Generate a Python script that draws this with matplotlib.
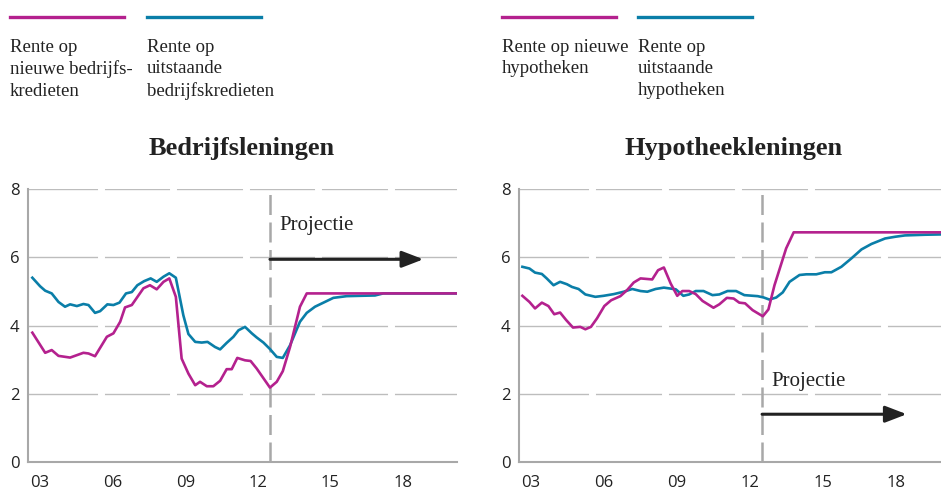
import matplotlib
matplotlib.use("Agg")
import matplotlib.pyplot as plt
from matplotlib.lines import Line2D

# Data, x in fractional years
bed_nieuw_x = [2003.18, 2003.71, 2003.98, 2004.26, 2004.74, 2005.29, 2005.50, 2005.77, 2006.26, 2006.53,
               2006.81, 2007.01, 2007.29, 2007.77, 2008.04, 2008.32, 2008.60, 2008.84, 2009.11, 2009.35,
               2009.63, 2009.91, 2010.11, 2010.39, 2010.66, 2010.94, 2011.21, 2011.42, 2011.65, 2011.97,
               2012.20, 2012.45, 2013.00, 2013.28, 2013.53, 2013.83, 2014.24, 2014.52, 2020.75]
bed_nieuw_y = [3.79, 3.20, 3.28, 3.11, 3.06, 3.20, 3.18, 3.10, 3.67, 3.77,
               4.11, 4.53, 4.60, 5.09, 5.18, 5.06, 5.28, 5.38, 4.84, 3.03,
               2.59, 2.25, 2.35, 2.22, 2.22, 2.38, 2.72, 2.72, 3.05, 2.98,
               2.96, 2.74, 2.18, 2.35, 2.66, 3.37, 4.55, 4.94, 4.94]

bed_uitst_x = [2003.18, 2003.50, 2003.71, 2003.98, 2004.26, 2004.53, 2004.74, 2005.02, 2005.29, 2005.50,
               2005.77, 2005.98, 2006.28, 2006.53, 2006.78, 2007.05, 2007.29, 2007.52, 2007.80, 2008.07,
               2008.32, 2008.60, 2008.84, 2009.11, 2009.42, 2009.63, 2009.91, 2010.18, 2010.42, 2010.73,
               2010.94, 2011.21, 2011.49, 2011.70, 2011.97, 2012.25, 2012.45, 2012.73, 2013.00, 2013.28,
               2013.53, 2013.83, 2014.24, 2014.52, 2014.86, 2015.27, 2015.62, 2016.17, 2016.72, 2017.34,
               2017.68, 2020.75]
bed_uitst_y = [5.40, 5.15, 5.02, 4.94, 4.69, 4.55, 4.62, 4.57, 4.63, 4.60,
               4.37, 4.42, 4.62, 4.60, 4.67, 4.94, 4.98, 5.18, 5.30, 5.38,
               5.28, 5.43, 5.53, 5.40, 4.30, 3.75, 3.52, 3.50, 3.52, 3.37,
               3.30, 3.49, 3.67, 3.86, 3.96, 3.77, 3.65, 3.50, 3.31, 3.08,
               3.05, 3.42, 4.11, 4.37, 4.55, 4.69, 4.81, 4.86, 4.87, 4.88,
               4.94, 4.94]

hyp_nieuw_x = [2003.14, 2003.43, 2003.66, 2003.94, 2004.21, 2004.45, 2004.69, 2004.94, 2005.22, 2005.52,
               2005.73, 2005.96, 2006.21, 2006.51, 2006.79, 2007.17, 2007.45, 2007.72, 2008.00, 2008.48,
               2008.72, 2008.96, 2009.24, 2009.51, 2009.72, 2010.00, 2010.27, 2010.55, 2011.00, 2011.24,
               2011.55, 2011.83, 2012.06, 2012.30, 2012.61, 2013.03, 2013.26, 2013.51, 2013.99, 2014.30,
               2020.40]
hyp_nieuw_y = [4.87, 4.69, 4.50, 4.67, 4.57, 4.33, 4.38, 4.16, 3.94, 3.96,
               3.89, 3.96, 4.21, 4.57, 4.74, 4.86, 5.04, 5.26, 5.38, 5.35,
               5.62, 5.70, 5.23, 4.87, 5.01, 5.01, 4.92, 4.72, 4.52, 4.62,
               4.81, 4.79, 4.67, 4.65, 4.45, 4.27, 4.47, 5.18, 6.26, 6.73,
               6.73]

hyp_uitst_x = [2003.14, 2003.43, 2003.66, 2003.94, 2004.14, 2004.42, 2004.69, 2004.97, 2005.18, 2005.45,
               2005.73, 2006.14, 2006.48, 2006.90, 2007.31, 2007.66, 2008.00, 2008.28, 2008.62, 2008.96,
               2009.45, 2009.76, 2010.00, 2010.27, 2010.59, 2010.96, 2011.24, 2011.58, 2011.93, 2012.27,
               2012.82, 2013.07, 2013.30, 2013.58, 2013.85, 2014.13, 2014.54, 2014.82, 2015.23, 2015.58,
               2015.85, 2016.26, 2016.68, 2017.09, 2017.50, 2018.06, 2018.47, 2018.88, 2019.71, 2020.44]
hyp_uitst_y = [5.72, 5.67, 5.55, 5.51, 5.38, 5.18, 5.28, 5.21, 5.13, 5.07,
               4.91, 4.84, 4.87, 4.92, 4.99, 5.07, 5.01, 4.99, 5.07, 5.11,
               5.06, 4.87, 4.91, 5.01, 5.01, 4.89, 4.91, 5.01, 5.01, 4.89,
               4.86, 4.82, 4.76, 4.82, 4.97, 5.28, 5.48, 5.50, 5.50, 5.56,
               5.56, 5.72, 5.97, 6.23, 6.39, 6.55, 6.60, 6.64, 6.66, 6.67]

tick_years = [2003, 2006, 2009, 2012, 2015, 2018]
tick_labels = ['03', '06', '09', '12', '15', '18']
y_ticks = [0, 2, 4, 6, 8]
proj_start = 2013.0

magenta = '#b4218e'
blue = '#0a7ea8'
grey = '#a8a8a8'
serif = 'Liberation Serif'
sans = 'Open Sans'

W, H = 941, 494
fig = plt.figure(figsize=(W / 100, H / 100), dpi=100)


def px(x, y):
    return x / W, 1 - y / H


def panel(left, right, xmax, nx, ny, ux, uy, title, title_x, leg_x, leg_texts,
          proj_text, arrow_end, arrow_y):
    x0, _ = px(left, 0)
    x1, _ = px(right, 0)
    _, yb = px(0, 462)
    _, yt = px(0, 189)
    ax = fig.add_axes([x0, yb, x1 - x0, yt - yb])
    ax.set_xlim(2003.0, xmax)
    ax.set_ylim(0, 8)
    for v in y_ticks[1:]:
        ax.axhline(v, color='#bdbdbd', lw=1.0, zorder=1)
    for t in tick_years[1:]:
        ax.axvline(t, ymin=0.01, color='white', lw=5, zorder=1.5)
    ax.axvline(proj_start, color=grey, lw=1.8, dashes=(8, 3), zorder=2)
    ax.plot(ux, uy, color=blue, lw=1.9, zorder=3)
    ax.plot(nx, ny, color=magenta, lw=1.9, zorder=3)
    ax.annotate('', xy=(arrow_end, arrow_y), xytext=(proj_start, arrow_y),
                arrowprops=dict(arrowstyle='-|>,head_length=1.3,head_width=0.5',
                                color='#222222', lw=2.2, shrinkA=0, shrinkB=0), zorder=4)
    ax.text(proj_start + 0.4, arrow_y + proj_text, 'Projectie', family=serif, fontsize=15,
            color='#222222', va='baseline', ha='left')
    for side in ['top', 'right']:
        ax.spines[side].set_visible(False)
    for side in ['left', 'bottom']:
        ax.spines[side].set_color(grey)
        ax.spines[side].set_linewidth(1.5)
    ax.set_xticks([t + 0.5 for t in tick_years])
    ax.set_xticklabels(tick_labels)
    ax.set_yticks(y_ticks)
    ax.tick_params(axis='x', length=0, pad=9, labelsize=12, labelcolor='#222222')
    ax.tick_params(axis='y', length=0, pad=6, labelsize=12, labelcolor='#222222')
    for lab in ax.get_xticklabels() + ax.get_yticklabels():
        lab.set_family(sans)

    tx, ty = px(title_x, 155)
    fig.text(tx, ty, title, family=serif, fontsize=19, fontweight='bold',
             color='#222222', ha='center', va='baseline')
    for (lx, col, txt) in zip(leg_x, [magenta, blue], leg_texts):
        a, yy = px(lx, 17)
        b, _ = px(lx + 114, 17)
        fig.add_artist(Line2D([a, b], [yy, yy], color=col, lw=2.4, transform=fig.transFigure))
        sx, sy = px(lx, 39)
        fig.text(sx, sy, txt, family=serif, fontsize=13.5, color='#222222',
                 va='top', ha='left', linespacing=1.33)
    return ax


panel(28, 457, 2020.73, bed_nieuw_x, bed_nieuw_y, bed_uitst_x, bed_uitst_y,
      'Bedrijfsleningen', 242, [10, 147],
      ['Rente op\nnieuwe bedrijfs-\nkredieten', 'Rente op\nuitstaande\nbedrijfskredieten'],
      0.86, 2019.34, 5.94)
panel(519, 941, 2020.36, hyp_nieuw_x, hyp_nieuw_y, hyp_uitst_x, hyp_uitst_y,
      'Hypotheekleningen', 734, [502, 638],
      ['Rente op nieuwe\nhypotheken', 'Rente op\nuitstaande\nhypotheken'],
      0.83, 2018.95, 1.40)

fig.savefig('out.png', dpi=100)
